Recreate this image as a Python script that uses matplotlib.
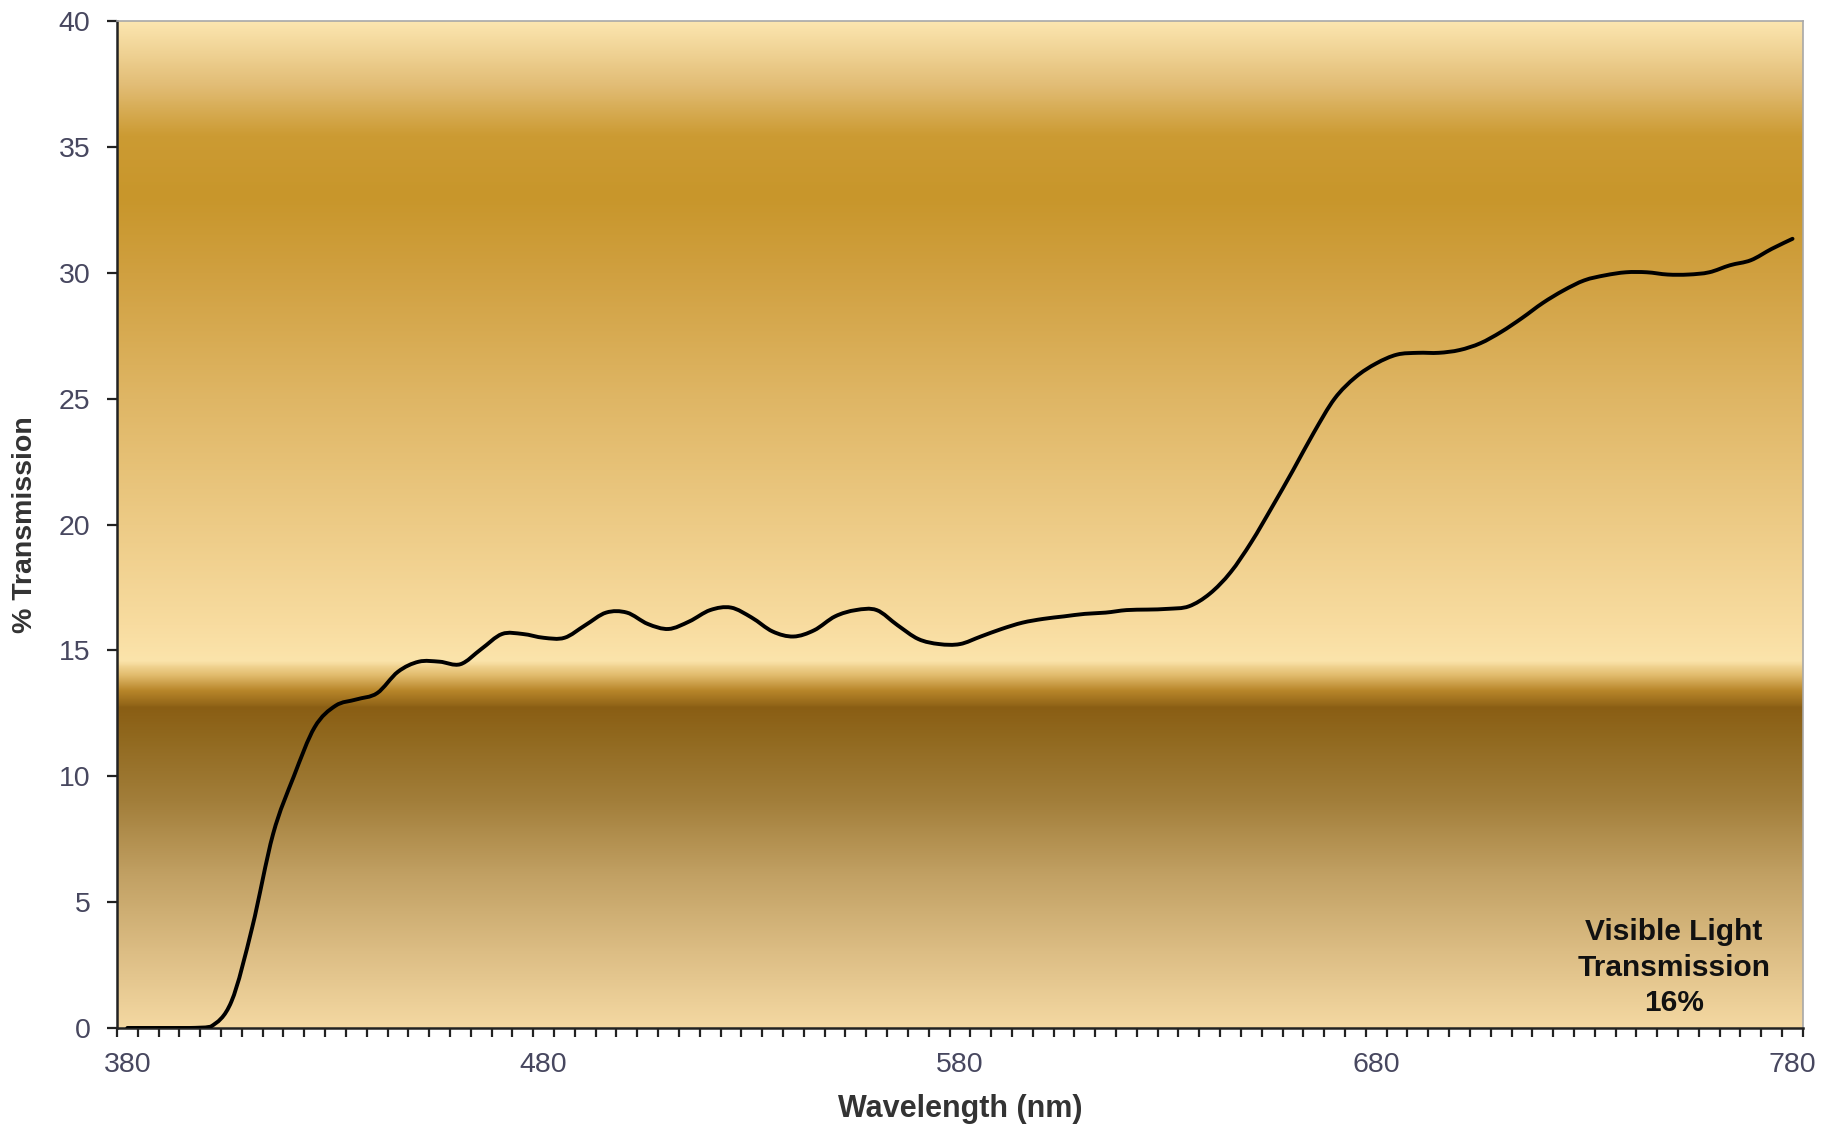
import numpy as np
import matplotlib
matplotlib.use("Agg")
import matplotlib.pyplot as plt
from matplotlib.colors import LinearSegmentedColormap
from matplotlib.ticker import FixedLocator
from matplotlib.path import Path
from matplotlib.patches import PathPatch

plt.rcParams['font.family'] = ['Liberation Sans', 'DejaVu Sans']

# Wavelength categories (nm) and measured transmission (%)
wavelengths = np.arange(380, 785, 5)
transmission = [
    0.0, 0.0, 0.0, 0.0,
    0.05, 1.05, 4.0, 7.7, 10.0, 11.95, 12.8, 13.05, 13.3, 14.15,
    14.55, 14.55, 14.45, 15.05, 15.65, 15.65, 15.5,
    15.5, 16.0, 16.5, 16.5, 16.05, 15.85, 16.15, 16.6, 16.7, 16.3,
    15.75, 15.55, 15.8, 16.35, 16.6, 16.6, 16.0, 15.45, 15.25, 15.25,
    15.55, 15.85, 16.1, 16.25, 16.35, 16.45, 16.5, 16.6, 16.62, 16.65,
    16.75, 17.25, 18.1, 19.3, 20.7, 22.15, 23.65, 25.0, 25.85, 26.4,
    26.75, 26.82, 26.82, 26.93, 27.2, 27.65, 28.2, 28.8, 29.3, 29.7,
    29.9, 30.02, 30.02, 29.93, 29.93, 30.02, 30.3, 30.5, 30.95, 31.35,
]
x_tick_labels = [380, 480, 580, 680, 780]
y_ticks = [0, 5, 10, 15, 20, 25, 30, 35, 40]
vlt_label = "Visible Light\nTransmission\n16%"

# Gold background gradient stops (value on y axis -> colour)
grad_stops = [
    (0.0, "#F4D8A2"), (3.0, "#DCBD84"), (6.0, "#C2A164"), (9.0, "#A27E3A"),
    (11.5, "#91691F"), (12.7, "#8A5E14"), (13.4, "#B8862A"), (14.0, "#E2BC6E"),
    (14.6, "#FBE4AB"), (16.0, "#F8DCA0"), (20.0, "#EDCB86"), (25.0, "#DFB665"),
    (30.0, "#D0A040"), (33.0, "#C8962B"), (35.5, "#CC9B33"), (37.5, "#E2BD76"),
    (40.0, "#FCE6B0"),
]


def smooth_path(xs, ys, floor=0.0):
    """Smoothed line through the points (Catmull-Rom as cubic Beziers)."""
    pts = np.column_stack([xs, ys]).astype(float)
    n = len(pts)
    verts = [pts[0]]
    codes = [Path.MOVETO]
    for i in range(n - 1):
        p0 = pts[max(i - 1, 0)]
        p1 = pts[i]
        p2 = pts[i + 1]
        p3 = pts[min(i + 2, n - 1)]
        c1 = p1 + (p2 - p0) / 6.0
        c2 = p2 - (p3 - p1) / 6.0
        # keep the curve from dipping below the axis floor
        c1[1] = max(c1[1], floor)
        c2[1] = max(c2[1], floor)
        verts += [c1, c2, p2]
        codes += [Path.CURVE4] * 3
    return Path(verts, codes)


fig = plt.figure(figsize=(18.33, 11.38), dpi=100)
ax = fig.add_axes([0.0638, 0.0967, 0.9198, 0.8848])

xmin, xmax = 377.5, 782.5
ymin, ymax = 0, 40

cmap = LinearSegmentedColormap.from_list(
    "gold", [(v / ymax, c) for v, c in grad_stops], N=1024)
grad = np.linspace(0, 1, 1000).reshape(-1, 1)
ax.imshow(grad, cmap=cmap, aspect='auto', origin='lower',
          extent=[xmin, xmax, ymin, ymax], interpolation='bilinear', zorder=0)

curve = PathPatch(smooth_path(wavelengths, transmission), facecolor='none',
                  edgecolor='black', lw=2.8, zorder=3,
                  joinstyle='round', capstyle='round')
ax.add_patch(curve)

ax.set_xlim(xmin, xmax)
ax.set_ylim(ymin, ymax)

# Category-style ticks: marks between categories, labels every 100 nm
ax.set_xticks(x_tick_labels)
ax.set_xticklabels([str(v) for v in x_tick_labels])
ax.xaxis.set_minor_locator(FixedLocator(np.arange(xmin, xmax + 0.1, 5)))
ax.tick_params(axis='x', which='major', length=0, pad=17,
               labelsize=20.5, labelcolor='#47475F')
ax.tick_params(axis='x', which='minor', length=6.5, width=1.6,
               color='#222222', direction='out')

ax.set_yticks(y_ticks)
ax.tick_params(axis='y', which='major', length=7, width=1.6,
               color='#222222', direction='out', pad=12,
               labelsize=20.5, labelcolor='#47475F')

for side in ('left', 'bottom'):
    ax.spines[side].set_color('#222222')
    ax.spines[side].set_linewidth(1.8)
for side in ('top', 'right'):
    ax.spines[side].set_color('#A8A8A8')
    ax.spines[side].set_linewidth(1.2)

ax.set_xlabel("Wavelength (nm)", fontsize=22, fontweight='bold',
              color='#333333', labelpad=12)
ax.set_ylabel("% Transmission", fontsize=20.5, fontweight='bold',
              color='#333333', labelpad=15)

ax.text(751.5, 2.4, vlt_label, ha='center', va='center',
        fontsize=21.5, fontweight='bold', color='#111111',
        linespacing=1.35, zorder=4)

fig.savefig("out.png", dpi=100)
